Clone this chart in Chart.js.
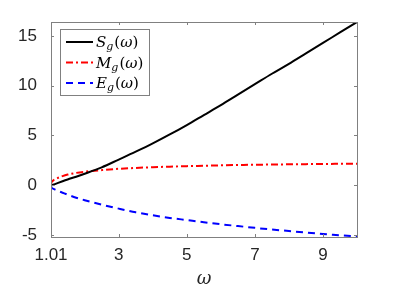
<!DOCTYPE html>
<html>
<head>
<meta charset="utf-8">
<script src="https://cdn.jsdelivr.net/npm/chart.js@4/dist/chart.umd.min.js"></script>
<style>
  html, body { margin: 0; padding: 0; background: #fff; }
  #wrap { width: 395px; height: 296px; }
</style>
</head>
<body>
<div id="wrap"><canvas id="myChart" width="395" height="296"></canvas></div>
<script>
// values
var omega = [1.01, 1.02, 1.05, 1.1, 1.2, 1.35, 1.5, 1.75, 2, 2.5, 3, 3.5, 4, 4.5, 5, 5.5, 6, 6.5, 7, 7.5, 8, 8.5, 9, 9.5, 10];
var sVals = [0, 0.01, 0.03, 0.08, 0.21, 0.4, 0.58, 0.86, 1.16, 1.8, 2.58, 3.37, 4.2, 5.1, 6.05, 7.05, 8.05, 9.1, 10.15, 11.2, 12.2, 13.25, 14.3, 15.35, 16.4];
var mVals = [0, 0.25, 0.4, 0.55, 0.72, 0.92, 1.07, 1.24, 1.36, 1.52, 1.65, 1.74, 1.81, 1.87, 1.92, 1.96, 2.0, 2.03, 2.06, 2.08, 2.1, 2.12, 2.14, 2.15, 2.17];
var eVals = [0, -0.2, -0.3, -0.4, -0.55, -0.75, -0.95, -1.25, -1.5, -1.95, -2.35, -2.72, -3.02, -3.28, -3.5, -3.72, -3.92, -4.1, -4.28, -4.45, -4.6, -4.75, -4.9, -5.02, -5.15];
var xTicks = [1.01, 3, 5, 7, 9];
var yTicks = [-5, 0, 5, 10, 15];

function pts(vals) {
  var out = [];
  for (var i = 0; i < omega.length; i++) {
    out.push({ x: omega[i], y: vals[i] });
  }
  return out;
}

var axisColor = '#808080';
var textColor = '#262626';
var labelFont = '"Liberation Sans", Arial, sans-serif';

// box around the axes with inward ticks, like matlab
var boxPlugin = {
  id: 'box',
  afterDatasetsDraw: function (chart) {
    var ctx = chart.ctx;
    var a = chart.chartArea;
    var xs = chart.scales.x, ys = chart.scales.y;
    ctx.save();
    ctx.strokeStyle = axisColor;
    ctx.lineWidth = 1;
    ctx.strokeRect(Math.round(a.left) + 0.5, Math.round(a.top) + 0.5,
      Math.round(a.right - a.left), Math.round(a.bottom - a.top));
    ctx.beginPath();
    xTicks.forEach(function (v) {
      var px = Math.round(xs.getPixelForValue(v)) + 0.5;
      ctx.moveTo(px, a.bottom); ctx.lineTo(px, a.bottom - 3);
      ctx.moveTo(px, a.top); ctx.lineTo(px, a.top + 3);
    });
    yTicks.forEach(function (v) {
      var py = Math.round(ys.getPixelForValue(v)) + 0.5;
      ctx.moveTo(a.left, py); ctx.lineTo(a.left + 3, py);
      ctx.moveTo(a.right, py); ctx.lineTo(a.right - 3, py);
    });
    ctx.stroke();
    ctx.restore();
  }
};

// legend with subscripts
var legendItems = [
  { name: 'S', color: '#000000', dash: [] },
  { name: 'M', color: '#ff0000', dash: [7, 3, 2, 3] },
  { name: 'E', color: '#0000ff', dash: [7, 5] }
];
var legendPlugin = {
  id: 'mathLegend',
  afterDraw: function (chart) {
    var ctx = chart.ctx;
    var bx = 60.5, by = 29.5, bw = 89, bh = 66;
    ctx.save();
    ctx.fillStyle = '#fff';
    ctx.fillRect(bx, by, bw, bh);
    ctx.strokeStyle = axisColor;
    ctx.lineWidth = 1;
    ctx.strokeRect(bx, by, bw, bh);
    legendItems.forEach(function (it, i) {
      var cy = 42 + i * 20.5;
      ctx.beginPath();
      ctx.strokeStyle = it.color;
      ctx.lineWidth = 2;
      ctx.setLineDash(it.dash);
      ctx.moveTo(66, cy); ctx.lineTo(93, cy);
      ctx.stroke();
      ctx.setLineDash([]);
      ctx.fillStyle = '#000';
      ctx.textBaseline = 'alphabetic';
      var x = 96, base = cy + 5;
      ctx.font = 'italic 15px "DejaVu Serif", serif';
      ctx.fillText(it.name, x, base);
      x += ctx.measureText(it.name).width;
      ctx.font = 'italic 11px "DejaVu Serif", serif';
      ctx.fillText('g', x, base + 3);
      x += ctx.measureText('g').width + 1;
      ctx.font = '15px "DejaVu Serif", serif';
      ctx.fillText('(', x, base);
      x += ctx.measureText('(').width;
      ctx.font = 'italic 15px "DejaVu Serif", serif';
      ctx.fillText('\u03C9', x, base);
      x += ctx.measureText('\u03C9').width;
      ctx.font = '15px "DejaVu Serif", serif';
      ctx.fillText(')', x, base);
    });
    ctx.restore();
  }
};

var ctx = document.getElementById('myChart').getContext('2d');
var myChart = new Chart(ctx, {
  type: 'line',
  data: {
    datasets: [
      { label: 'S_g', data: pts(sVals), borderColor: '#000000', borderWidth: 2, pointRadius: 0, cubicInterpolationMode: 'monotone', fill: false },
      { label: 'M_g', data: pts(mVals), borderColor: '#ff0000', borderWidth: 2, borderDash: [7, 3, 2, 3], pointRadius: 0, cubicInterpolationMode: 'monotone', fill: false },
      { label: 'E_g', data: pts(eVals), borderColor: '#0000ff', borderWidth: 2, borderDash: [7, 5], pointRadius: 0, cubicInterpolationMode: 'monotone', fill: false }
    ]
  },
  options: {
    responsive: false,
    animation: false,
    layout: { padding: { top: 22, right: 38, left: 0, bottom: 0 } },
    plugins: { legend: { display: false }, tooltip: { enabled: false } },
    scales: {
      x: {
        type: 'linear',
        min: 1.01,
        max: 10,
        grid: { display: false },
        border: { display: false },
        afterBuildTicks: function (s) { s.ticks = xTicks.map(function (v) { return { value: v }; }); },
        afterFit: function (s) { s.height = 59; },
        ticks: {
          color: textColor,
          font: { family: labelFont, size: 17 },
          padding: 0,
          maxRotation: 0,
          callback: function (v) { return String(v); }
        },
        title: {
          display: true,
          text: '\u03C9',
          color: textColor,
          font: { family: '"DejaVu Serif", serif', size: 18, style: 'italic' },
          padding: { top: 2, bottom: 6 }
        }
      },
      y: {
        min: -5.2,
        max: 16.4,
        grid: { display: false },
        border: { display: false },
        afterBuildTicks: function (s) { s.ticks = yTicks.map(function (v) { return { value: v }; }); },
        afterFit: function (s) { s.width = 51; },
        ticks: {
          color: textColor,
          font: { family: labelFont, size: 17 },
          padding: 6,
          callback: function (v) { return String(v); }
        }
      }
    }
  },
  plugins: [boxPlugin, legendPlugin]
});
</script>
</body>
</html>
